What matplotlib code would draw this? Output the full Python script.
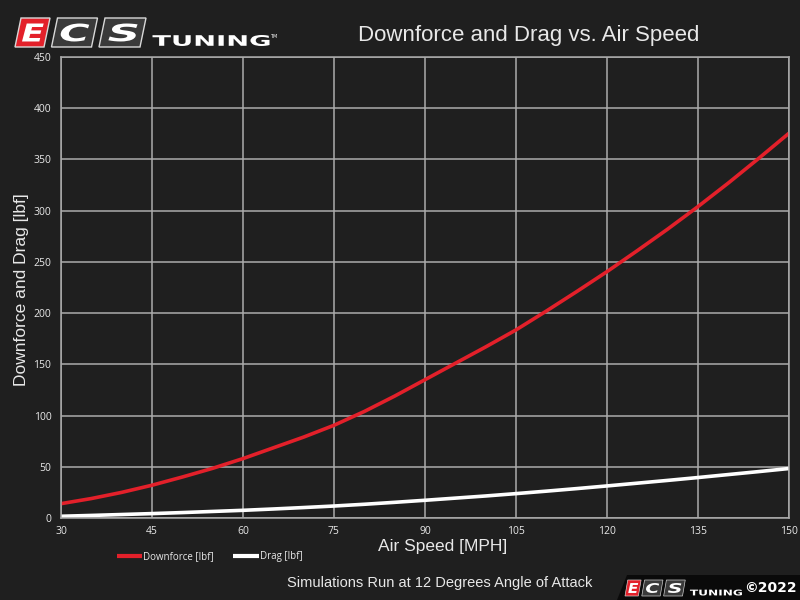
import matplotlib
matplotlib.use("Agg")
import matplotlib.pyplot as plt
from matplotlib.patches import Polygon, PathPatch
from matplotlib.textpath import TextPath
from matplotlib.font_manager import FontProperties
from matplotlib.transforms import Affine2D

# ---------------- data ----------------
air_speed = [30, 35, 40, 45, 50, 55, 60, 65, 70, 75, 80, 85, 90, 95, 100,
             105, 110, 115, 120, 125, 130, 135, 140, 145, 150]
downforce = [14, 19, 25, 32, 40, 48.5, 58, 68.5, 79, 90.5, 104, 119, 135, 151, 167,
             183.6, 202, 221, 240.5, 261, 282, 304, 327, 351, 375.6]
drag = [1.7, 2.5, 3.4, 4.3, 5.3, 6.4, 7.5, 8.8, 10.2, 11.7, 13.4, 15.3, 17.3, 19.4, 21.5,
        23.8, 26.2, 28.7, 31.3, 34, 36.7, 39.5, 42.4, 45.3, 48.3]
x_ticks = [30, 45, 60, 75, 90, 105, 120, 135, 150]
y_ticks = [0, 50, 100, 150, 200, 250, 300, 350, 400, 450]
series_labels = ["Downforce [lbf]", "Drag [lbf]"]
title = "Downforce and Drag vs. Air Speed"
x_label = "Air Speed [MPH]"
y_label = "Downforce and Drag [lbf]"
footer = "Simulations Run at 12 Degrees Angle of Attack"

BG = "#1f1f1f"
GRID = "#ababab"
RED = "#e3202a"
TXT = "#e8e8e8"

W, H = 800, 600
fig = plt.figure(figsize=(8, 6), dpi=100, facecolor=BG)

def fx(x):
    return x / W

def fy(y):
    return 1 - y / H

ax = fig.add_axes([fx(61), fy(518), fx(789) - fx(61), fy(57) - fy(518)])
ax.set_facecolor(BG)
ax.plot(air_speed, downforce, color=RED, lw=2.6, label=series_labels[0], solid_capstyle="butt")
ax.plot(air_speed, drag, color="white", lw=2.6, label=series_labels[1], solid_capstyle="butt")
ax.set_xlim(30, 150)
ax.set_ylim(0, 450)
ax.set_xticks(x_ticks)
ax.set_yticks(y_ticks)
ax.grid(True, color=GRID, lw=1.1)
ax.set_axisbelow(True)
for s in ax.spines.values():
    s.set_color(GRID)
    s.set_linewidth(1.1)
ax.tick_params(length=0, colors=TXT, labelsize=7.5)
ax.tick_params(axis="x", pad=6)
ax.tick_params(axis="y", pad=7)
for lab in ax.get_xticklabels() + ax.get_yticklabels():
    lab.set_family("Open Sans")

fig.text(fx(443), fy(546), x_label, ha="center", va="center", fontsize=12.5,
         color=TXT, family="Liberation Sans")
fig.text(fx(22), fy(290), y_label, ha="center", va="center", rotation=90,
         fontsize=12.5, color=TXT, family="Liberation Sans")
fig.text(fx(529), fy(36), title, ha="center", va="center", fontsize=16,
         color=TXT, family="Liberation Sans")
fig.text(fx(440), fy(583), footer, ha="center", va="center", fontsize=10.5,
         color=TXT, family="Liberation Sans")

leg = ax.legend(loc="center left", bbox_to_anchor=(fx(117), fy(557)),
                bbox_transform=fig.transFigure, ncol=2, frameon=False,
                handlelength=2.6, handletextpad=0.1,
                columnspacing=2.0, borderpad=0, borderaxespad=0,
                prop={"family": "Open Sans", "size": 7})
for t in leg.get_texts():
    t.set_color(TXT)
for l in leg.get_lines():
    l.set_linewidth(3)


# ---------------- logos ----------------
def para(x0, x1, ytop, ybot, slant, **kw):
    pts = [(fx(x0), fy(ybot)), (fx(x1 - slant), fy(ybot)),
           (fx(x1), fy(ytop)), (fx(x0 + slant), fy(ytop))]
    p = Polygon(pts, closed=True, transform=fig.transFigure, **kw)
    fig.add_artist(p)


def text_path(s, x, y, height_px, width_px, color, weight="bold", style="normal",
              family="DejaVu Sans"):
    fp = FontProperties(family=family, weight=weight, style=style)
    tp = TextPath((0, 0), s, size=100, prop=fp)
    bb = tp.get_extents()
    sx = width_px / bb.width
    sy = height_px / bb.height
    tr = (Affine2D().translate(-bb.x0, -bb.y0).scale(sx / W, sy / H)
          .translate(fx(x), fy(y)))
    path = tr.transform_path(tp)
    pp = PathPatch(path, transform=fig.transFigure, facecolor=color,
                   edgecolor="none")
    fig.add_artist(pp)


def ecs_logo(x0, ytop, ybot, scale, tuning_w, tuning_h, tuning_gap):
    slant = 6 * scale
    w = [35 * scale, 46 * scale, 47 * scale]
    fills = [RED, "#3a3a3a", "#3a3a3a"]
    letters = ["E", "C", "S"]
    x = x0
    for wi, fc, le in zip(w, fills, letters):
        para(x, x + wi, ytop, ybot, slant, facecolor=fc, edgecolor="#d8d8d8",
             lw=1.0 * scale)
        lh = (ybot - ytop) * 0.62
        lw = wi * 0.62
        text_path(le, x + wi * 0.2, ybot - (ybot - ytop) * 0.19, lh, lw,
                  "white", weight="bold", style="italic")
        x += wi + 1.5 * scale
    text_path("TUNING", x + tuning_gap, ybot - 1 * scale, tuning_h, tuning_w,
              "white", weight="bold")
    return x + tuning_gap + tuning_w


end = ecs_logo(15, 18, 47, 1.0, 117, 11, 5)
fig.text(fx(end + 1), fy(36), "TM", fontsize=3.5, color="white", ha="left",
         va="center", family="DejaVu Sans")

# bottom-right badge
badge = Polygon([(fx(617), fy(600)), (fx(800), fy(600)), (fx(800), fy(575)),
                 (fx(627), fy(575))], closed=True, transform=fig.transFigure,
                facecolor="#0a0a0a", edgecolor="none")
fig.add_artist(badge)
ecs_logo(625, 580, 596, 0.46, 52, 6, 4)
fig.text(fx(797), fy(588), "\u00a92022", fontsize=10, color="white", ha="right",
         va="center", family="DejaVu Sans", weight="bold")

fig.savefig("out.png", dpi=100, facecolor=BG)
